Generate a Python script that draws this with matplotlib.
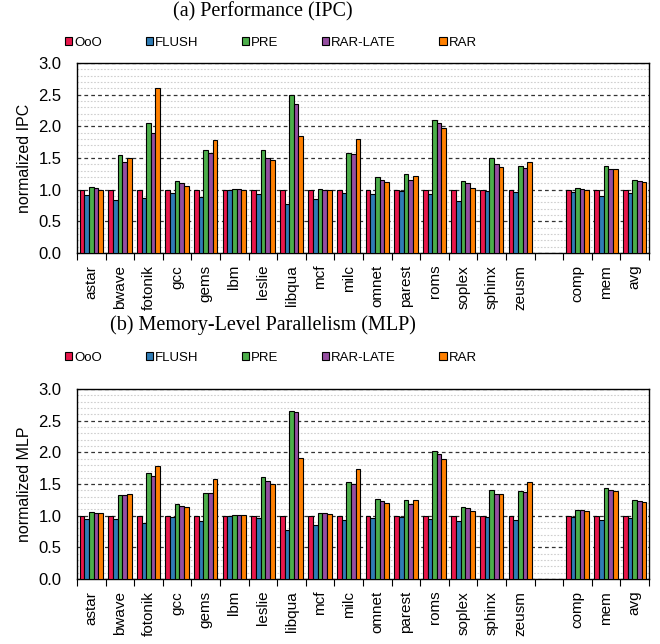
import matplotlib
matplotlib.use("Agg")
import matplotlib.pyplot as plt
import numpy as np
from matplotlib.patches import Patch
from matplotlib.ticker import MultipleLocator, FixedLocator, FormatStrFormatter

benchmarks = ["astar", "bwave", "fotonik", "gcc", "gems", "lbm", "leslie", "libqua",
              "mcf", "milc", "omnet", "parest", "roms", "soplex", "sphinx", "zeusm"]
summary = ["comp", "mem", "avg"]
series = ["OoO", "FLUSH", "PRE", "RAR-LATE", "RAR"]
colors = ["#E8174B", "#2F7CB5", "#4CAE4A", "#954EA0", "#FF8000"]

# (a) normalized IPC : one list per series, over benchmarks + summary
ipc_ooo = [1.0] * 19
ipc_flush = [0.92, 0.83, 0.87, 0.94, 0.89, 0.99, 0.93, 0.78, 0.86, 0.94, 0.93, 0.98, 0.93, 0.82, 0.98, 0.97,
             0.97, 0.90, 0.94]
ipc_pre = [1.04, 1.55, 2.05, 1.14, 1.63, 1.01, 1.62, 2.49, 1.01, 1.58, 1.20, 1.25, 2.10, 1.13, 1.50, 1.37,
           1.03, 1.38, 1.16]
ipc_rarlate = [1.03, 1.43, 1.89, 1.10, 1.58, 1.01, 1.50, 2.36, 1.00, 1.56, 1.16, 1.16, 2.05, 1.10, 1.41, 1.34,
               1.01, 1.33, 1.13]
ipc_rar = [1.00, 1.50, 2.60, 1.06, 1.78, 1.00, 1.47, 1.84, 0.99, 1.80, 1.12, 1.21, 1.97, 1.03, 1.36, 1.43,
           1.00, 1.33, 1.12]

# (b) normalized MLP
mlp_ooo = [1.0] * 19
mlp_flush = [0.95, 0.94, 0.88, 0.98, 0.92, 1.00, 0.97, 0.78, 0.86, 0.93, 0.97, 0.98, 0.94, 0.92, 0.98, 0.93,
             0.98, 0.93, 0.97]
mlp_pre = [1.06, 1.33, 1.67, 1.19, 1.36, 1.01, 1.61, 2.66, 1.05, 1.53, 1.26, 1.25, 2.02, 1.13, 1.41, 1.39,
           1.09, 1.44, 1.24]
mlp_rarlate = [1.05, 1.33, 1.62, 1.16, 1.36, 1.01, 1.54, 2.63, 1.04, 1.50, 1.23, 1.18, 1.97, 1.12, 1.35, 1.37,
               1.09, 1.41, 1.23]
mlp_rar = [1.04, 1.35, 1.78, 1.14, 1.58, 1.01, 1.50, 1.91, 1.03, 1.74, 1.20, 1.24, 1.89, 1.08, 1.34, 1.53,
           1.08, 1.39, 1.22]

ipc = [ipc_ooo, ipc_flush, ipc_pre, ipc_rarlate, ipc_rar]
mlp = [mlp_ooo, mlp_flush, mlp_pre, mlp_rarlate, mlp_rar]

labels = benchmarks + summary
xpos = np.array(list(range(len(benchmarks))) + [len(benchmarks) + 1 + i for i in range(len(summary))], dtype=float)
nslots = len(benchmarks) + 1 + len(summary)

sans = ["Liberation Sans", "DejaVu Sans"]
serif = ["Liberation Serif", "DejaVu Serif"]

fig = plt.figure(figsize=(6.6, 6.44), dpi=100)

W, H = 660.0, 644.0
ax_left = 77 / W
ax_w = 572 / W
ax_h = 190 / H
panels = [
    (ipc, "normalized IPC", "(a) Performance (IPC)", (644 - 253) / H, 12, 43),
    (mlp, "normalized MLP", "(b) Memory-Level Parallelism (MLP)", (644 - 579) / H, 325, 358),
]

bw = 0.163
for data, ylabel, title, bottom, title_y, leg_y in panels:
    ax = fig.add_axes([ax_left, bottom, ax_w, ax_h])
    ax.set_xlim(-0.5, nslots - 0.5)
    ax.set_ylim(0, 3.0)
    ax.yaxis.set_major_locator(MultipleLocator(0.5))
    ax.yaxis.set_minor_locator(MultipleLocator(0.1))
    ax.yaxis.set_major_formatter(FormatStrFormatter("%.1f"))
    ax.grid(which="minor", axis="y", color="#cfcfcf", linestyle=(0, (1.5, 1.5)), linewidth=0.8, zorder=0)
    ax.grid(which="major", axis="y", color="#333333", linestyle=(0, (3, 2.5)), linewidth=0.9, zorder=0)
    ax.set_axisbelow(True)
    for i, (vals, c) in enumerate(zip(data, colors)):
        offs = (i - 2) * bw
        ax.bar(xpos + offs, vals, width=bw, color=c, edgecolor="black", linewidth=0.8, zorder=3)
    ax.set_xticks(xpos)
    ax.set_xticklabels(labels, rotation=90, fontsize=11, family=sans)
    ax.xaxis.set_minor_locator(FixedLocator(np.arange(-0.5, nslots, 1.0)))
    ax.tick_params(axis="x", which="major", length=0, pad=8.5)
    ax.tick_params(axis="x", which="minor", length=5, width=0.8, direction="out")
    ax.tick_params(axis="y", which="both", length=0, labelsize=12, pad=11)
    for lab in ax.get_yticklabels():
        lab.set_family(sans)
    ax.set_ylabel(ylabel, fontsize=11.5, family=sans, labelpad=5)
    for s in ax.spines.values():
        s.set_linewidth(1.0)
    fig.text(263 / W, 1 - title_y / H, title, ha="center", va="center", fontsize=14.5, family=serif)
    handles = [Patch(facecolor=c, edgecolor="black", linewidth=0.8) for c in colors]
    fig.legend(handles, series, loc="center left", bbox_to_anchor=(65 / W, 1 - leg_y / H), ncol=5,
               frameon=False, prop={"family": sans, "size": 9.5},
               handlelength=0.55, handleheight=0.55, handletextpad=0.15, columnspacing=3.3,
               borderaxespad=0, borderpad=0)

fig.savefig("out.png", dpi=100)
